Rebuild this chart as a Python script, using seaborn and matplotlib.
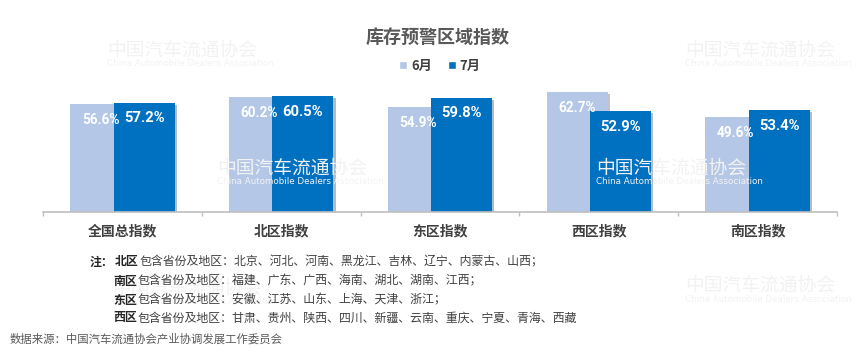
import pandas as pd
import seaborn as sns
import matplotlib.pyplot as plt
import matplotlib.patheffects as pe
from matplotlib.ticker import FixedLocator

# 数据
categories = ['全国总指数', '北区指数', '东区指数', '西区指数', '南区指数']
months = ['6月', '7月']
june = [56.6, 60.2, 54.9, 62.7, 49.6]
july = [57.2, 60.5, 59.8, 52.9, 53.4]

title = '库存预警区域指数'
note_heads = ['北区', '南区', '东区', '西区']
note_bodies = [
    '包含省份及地区：北京、河北、河南、黑龙江、吉林、辽宁、内蒙古、山西；',
    '包含省份及地区：福建、广东、广西、海南、湖北、湖南、江西；',
    '包含省份及地区：安徽、江苏、山东、上海、天津、浙江；',
    '包含省份及地区：甘肃、贵州、陕西、四川、新疆、云南、重庆、宁夏、青海、西藏',
]
source = '数据来源：中国汽车流通协会产业协调发展工作委员会'
wm_cn = '中国汽车流通协会'
wm_en = 'China Automobile Dealers Association'

df = pd.DataFrame({
    'cat': categories * 2,
    'month': [months[0]] * len(june) + [months[1]] * len(july),
    'val': june + july,
})

sns.set_theme(style='white')
plt.rcParams['font.family'] = ['Noto Sans CJK SC', 'DejaVu Sans']

W, H = 865, 354
fig = plt.figure(figsize=(W / 100, H / 100), dpi=100)
ax = fig.add_axes([43 / W, 1 - 212 / H, (837 - 43) / W, (212 - 78) / H])

# 水印
wm_pos = [(107, 50), (685, 50), (217, 168), (596, 168), (112, 288), (685, 285)]
for x, y in wm_pos:
    fig.text(x / W, 1 - y / H, wm_cn, fontsize=13.5, color='#F2F2F2',
             ha='left', va='center', zorder=0)
    fig.text(x / W, 1 - (y + 14) / H, wm_en, fontsize=6.3, color='#F2F2F2',
             family=['DejaVu Sans'], ha='left', va='center', zorder=0)
ax.set_facecolor('none')

palette = {'6月': '#B4C7E7', '7月': '#0070C0'}
sns.barplot(data=df, x='cat', y='val', hue='month', palette=palette,
            order=categories, hue_order=months, ax=ax, saturation=1)

# 柱子重叠摆放
bar_w = 0.384
offsets = [-0.137, 0.137]
label_sizes = [9.8, 10.6]
for i, cont in enumerate(ax.containers):
    for j, bar in enumerate(cont):
        cx = j + offsets[i]
        bar.set_x(cx - bar_w / 2)
        bar.set_width(bar_w)
        bar.set_edgecolor('none')
        bar.set_path_effects([pe.SimplePatchShadow(offset=(1.5, -1.5), alpha=0.3),
                              pe.Normal()])
        ax.annotate(f'{bar.get_height():.1f}%', (cx, bar.get_height()),
                    xytext=(0, -11.5), textcoords='offset points',
                    ha='center', va='center', color='white', fontweight='bold',
                    fontsize=label_sizes[i], family=['Roboto', 'DejaVu Sans'])

ax.set_xlim(-0.5, 4.5)
ax.set_ylim(0, 70)
ax.set_xlabel('')
ax.set_ylabel('')
ax.set_yticks([])
for s in ['left', 'right', 'top']:
    ax.spines[s].set_visible(False)
ax.spines['bottom'].set_color('#BFBFBF')
ax.spines['bottom'].set_linewidth(1.2)
ax.xaxis.set_minor_locator(FixedLocator([-0.5, 0.5, 1.5, 2.5, 3.5, 4.5]))
ax.tick_params(axis='x', which='major', length=0, pad=9, labelsize=10,
               labelcolor='#404040')
ax.tick_params(axis='x', which='minor', bottom=True, length=3, width=1,
               color='#BFBFBF', direction='out')
for t in ax.get_xticklabels():
    t.set_fontweight('bold')

sns.move_legend(ax, 'center', bbox_to_anchor=(0.5, 1.09), ncol=2, frameon=False,
                title=None, handlelength=0.6, handleheight=0.6, handletextpad=0.3,
                columnspacing=1.2, prop={'weight': 'bold', 'size': 9.5})
for t in ax.get_legend().get_texts():
    t.set_color('#404040')

fig.text(438 / W, 1 - 37 / H, title, ha='center', va='center',
         fontsize=13, fontweight='bold', color='#595959')

# 注释：粗体与常规文字依次排开
fig.canvas.draw()
renderer = fig.canvas.get_renderer()


def put_run(x_px, y, parts):
    for txt, bold in parts:
        t = fig.text(x_px / W, y, txt, fontsize=8.6, va='center', ha='left',
                     fontweight='bold' if bold else 'normal',
                     color='#262626' if bold else '#404040')
        x_px = t.get_window_extent(renderer).x1 + 1


note_y = [262, 281, 300, 318]
for k, (head, body) in enumerate(zip(note_heads, note_bodies)):
    y = 1 - note_y[k] / H
    if k == 0:
        put_run(90, y, [('注：', True), (head, True), (body, False)])
    else:
        put_run(113, y, [(head, True), (body, False)])

fig.text(10 / W, 1 - 339 / H, source, fontsize=8.2, color='#595959',
         ha='left', va='center')

fig.savefig('out.png', dpi=100)
